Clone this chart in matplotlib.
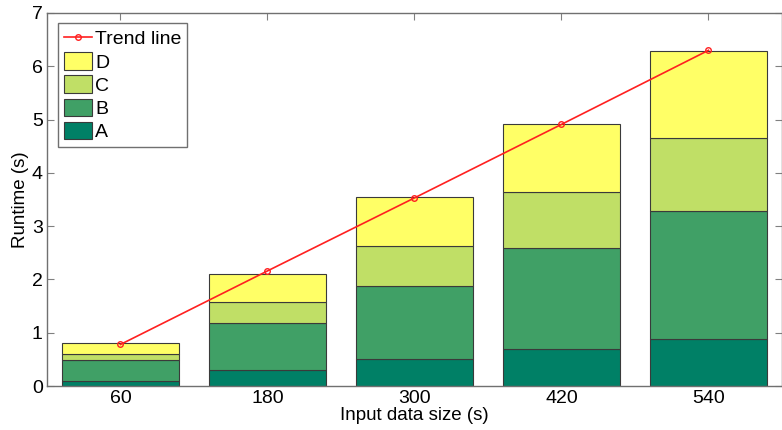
import numpy as np
import matplotlib
matplotlib.use('Agg')
import matplotlib.pyplot as plt

plt.rcParams['font.family'] = ['Liberation Sans', 'DejaVu Sans']

# data
sizes = [60, 180, 300, 420, 540]
a = [0.10, 0.30, 0.50, 0.70, 0.88]
b = [0.38, 0.89, 1.38, 1.89, 2.40]
c = [0.13, 0.38, 0.75, 1.05, 1.37]
d = [0.19, 0.54, 0.92, 1.27, 1.63]
trend = [0.78, 2.16, 3.53, 4.91, 6.30]

names = ['A', 'B', 'C', 'D']
colors = ['#008066', '#40A066', '#C0DF66', '#FFFF66']

fig = plt.figure(figsize=(7.82, 4.30), dpi=100)
ax = fig.add_axes([0.0601, 0.1023, 0.9399, 0.8675])

bottom = np.zeros(len(sizes))
bars = []
for vals, name, col in zip([a, b, c, d], names, colors):
    h = ax.bar(sizes, vals, width=96, bottom=bottom, color=col,
               edgecolor='#3a3a3a', linewidth=0.8, label=name, zorder=2)
    bars.append(h)
    bottom = bottom + np.array(vals)

line, = ax.plot(sizes, trend, '-o', color='#ff2020', lw=1.2, ms=4,
                mfc='none', mew=1.0, label='Trend line', zorder=3)

ax.set_xlim(0, 600)
ax.set_ylim(0, 7)
ax.set_xticks(sizes)
ax.set_yticks(range(8))
ax.tick_params(direction='in', length=5, color='#808080', labelsize=14,
               top=True, right=True, pad=3)
for s in ax.spines.values():
    s.set_color('#707070')
    s.set_linewidth(1.0)

ax.set_xlabel('Input data size (s)', fontsize=13.5, labelpad=0)
ax.set_ylabel('Runtime (s)', fontsize=13.5, labelpad=2)

leg = ax.legend([line] + bars[::-1], ['Trend line', 'D', 'C', 'B', 'A'],
                loc='upper left', bbox_to_anchor=(0.015, 0.973),
                fontsize=14, fancybox=False, edgecolor='#707070',
                framealpha=1, handlelength=1.45, handleheight=1.0,
                labelspacing=0.2, borderpad=0.3, handletextpad=0.15,
                borderaxespad=0)
leg.get_frame().set_linewidth(1.0)

fig.savefig('out.png', dpi=100)
